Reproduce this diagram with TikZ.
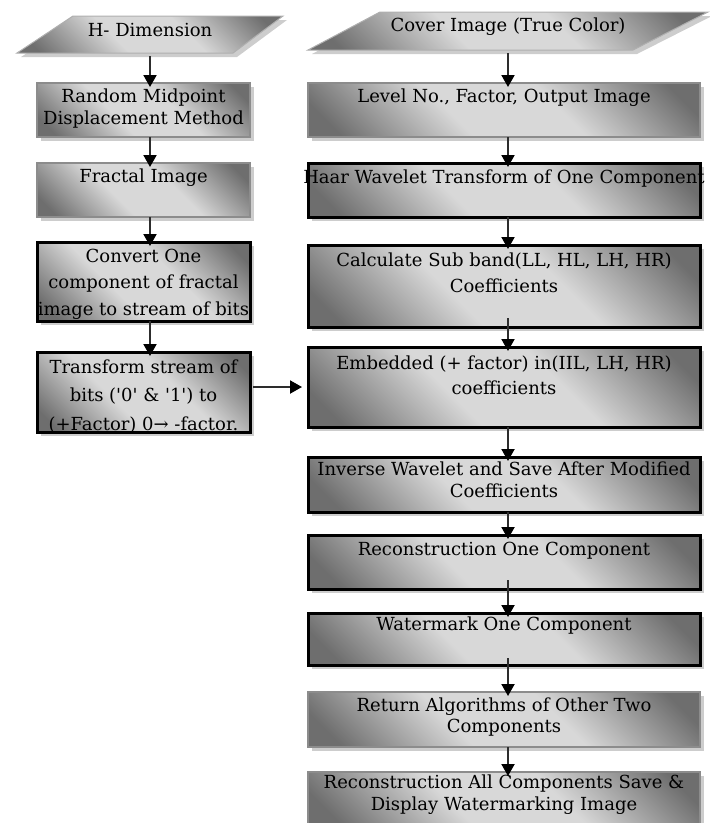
\documentclass[tikz,border=0pt]{standalone}
\usepackage{fontspec}
\setmainfont{DejaVu Serif}
\usetikzlibrary{arrows.meta,shadows,calc}
\definecolor{dk}{RGB}{110,110,110}
\definecolor{lt}{RGB}{216,216,216}
\definecolor{bd}{RGB}{140,140,140}
\definecolor{shd}{RGB}{205,205,205}
\definecolor{ln}{RGB}{45,45,45}
\definecolor{pbd}{RGB}{175,175,175}
\pgfdeclareverticalshading{boxsh}{100bp}{color(0bp)=(dk); color(20bp)=(dk); color(41bp)=(lt); color(59bp)=(lt); color(80bp)=(dk); color(100bp)=(dk)}
\newcommand\bt[5]{\parbox[c][#2pt][t]{#1pt}{\fontsize{18}{#4}\selectfont\centering\rule{0pt}{#5pt}#3\par}}
\newcommand\mkl[1]{\makebox[\linewidth][c]{#1}}
\tikzset{
  base/.style={rectangle, inner sep=0pt, outer sep=0pt, shading=boxsh, shading angle=-45,
    drop shadow={shadow xshift=4pt, shadow yshift=-4pt, fill=shd, opacity=1}},
  thinbox/.style={base, draw=bd, line width=1.5pt},
  thickbox/.style={base, draw=black, line width=3pt},
  para/.style={shading=boxsh, shading angle=-45, draw=pbd, line width=1pt,
    drop shadow={shadow xshift=4pt, shadow yshift=-4pt, fill=shd, opacity=1}},
  ptext/.style={inner sep=0pt, minimum height=37pt, font=\fontsize{18}{22}\selectfont},
  arr/.style={draw=ln, line width=2pt, -{Triangle[length=12pt,width=13pt,color=black]}}
}
\begin{document}
\begin{tikzpicture}[x=1pt,y=-1pt]
\useasboundingbox (0,0) rectangle (710,823);
\clip (0,0) rectangle (710,823);
% parallelograms
\path[para] (17,53) -- (73,16) -- (283,16) -- (233,53) -- cycle;
\node[ptext, text height=10pt, text depth=5.6pt] (h) at (150,34.5) {H- Dimension};
\path[para] (308,50) -- (380,12) -- (708,12) -- (633,50) -- cycle;
\node[ptext, minimum height=38pt, text height=6pt, text depth=6pt] (c) at (508,31) {Cover Image (True Color)};
% left column
\node[thinbox] (rmd) at (143.5,110) {\bt{213}{54}{\mkl{Random Midpoint}\\\mkl{Displacement Method}}{22}{19}};
\node[thinbox] (frac) at (143.5,190) {\bt{213}{54}{Fractal Image}{22}{19}};
\node[thickbox] (conv) at (143.5,281.5) {\bt{213}{79}{\mkl{Convert One}\\\mkl{component of fractal}\\\mkl{image to stream of bits}}{26.5}{20}};
\node[thickbox] (trans) at (143.5,392) {\bt{213}{80}{\mkl{Transform stream of}\\\mkl{bits (\textquotesingle 0\textquotesingle{} \& \textquotesingle 1\textquotesingle) to}\\\mkl{(+Factor) 0→ -factor.}}{28.5}{21}};
% right column
\node[thinbox] (lvl) at (504,110) {\bt{392}{54}{Level No., Factor, Output Image}{22}{19}};
\node[thickbox] (haar) at (504,190) {\bt{392}{54}{\mkl{Haar Wavelet Transform of One Component}}{22}{20}};
\node[thickbox] (calc) at (504,286) {\bt{392}{82}{\mkl{Calculate Sub band(LL, HL, LH, HR)}\\Coefficients}{26}{21.5}};
\node[thickbox] (emb) at (504,387) {\bt{392}{80}{\mkl{Embedded (+ factor) in(IIL, LH, HR)}\\coefficients}{25}{22}};
\node[thickbox] (inv) at (504,484.5) {\bt{392}{55}{\mkl{Inverse Wavelet and Save After Modified}\\Coefficients}{22}{18}};
\node[thickbox] (rec1) at (504,562) {\bt{392}{54}{Reconstruction One Component}{22}{20}};
\node[thickbox] (wm) at (504,639) {\bt{392}{52}{Watermark One Component}{22}{17}};
\node[thinbox] (ret) at (504,719.5) {\bt{392}{55}{\mkl{Return Algorithms of Other Two}\\Components}{21}{19.5}};
\node[thinbox] (rall) at (504,799) {\bt{392}{54}{\mkl{Reconstruction All Components Save \&}\\\mkl{Display Watermarking Image}}{22}{16}};
% left arrows
\draw[arr] ($(h.south)+(0pt,-3pt)$) -- ($(h.south |- rmd.north)+(0pt,-4pt)$);
\draw[arr] (rmd.south -| h) -- ($(h |- frac.north)+(0pt,-4pt)$);
\draw[arr] (frac.south -| h) -- ($(h |- conv.north)+(0pt,-4pt)$);
\draw[arr] (conv.south -| h) -- ($(h |- trans.north)+(0pt,-4pt)$);
\draw[arr] ($(trans.east |- emb)+(3pt,0pt)$) -- ($(emb.west)+(-6pt,0pt)$);
% right arrows
\draw[arr] ($(c.south)+(0pt,-3pt)$) -- ($(c.south |- lvl.north)+(0pt,-4pt)$);
\draw[arr] (lvl.south -| c) -- ($(c |- haar.north)+(0pt,-4pt)$);
\draw[arr] (haar.south -| c) -- ($(c |- calc.north)+(0pt,-4pt)$);
\draw[arr] ($(calc.south -| c)+(0pt,9pt)$) -- ($(c |- emb.north)+(0pt,-4pt)$);
\draw[arr] (emb.south -| c) -- ($(c |- inv.north)+(0pt,-4pt)$);
\draw[arr] (inv.south -| c) -- ($(c |- rec1.north)+(0pt,-4pt)$);
\draw[arr] ($(rec1.south -| c)+(0pt,9pt)$) -- ($(c |- wm.north)+(0pt,-4pt)$);
\draw[arr] ($(wm.south -| c)+(0pt,7pt)$) -- ($(c |- ret.north)+(0pt,-4pt)$);
\draw[arr] (ret.south -| c) -- ($(c |- rall.north)+(0pt,-4pt)$);
\end{tikzpicture}
\end{document}
